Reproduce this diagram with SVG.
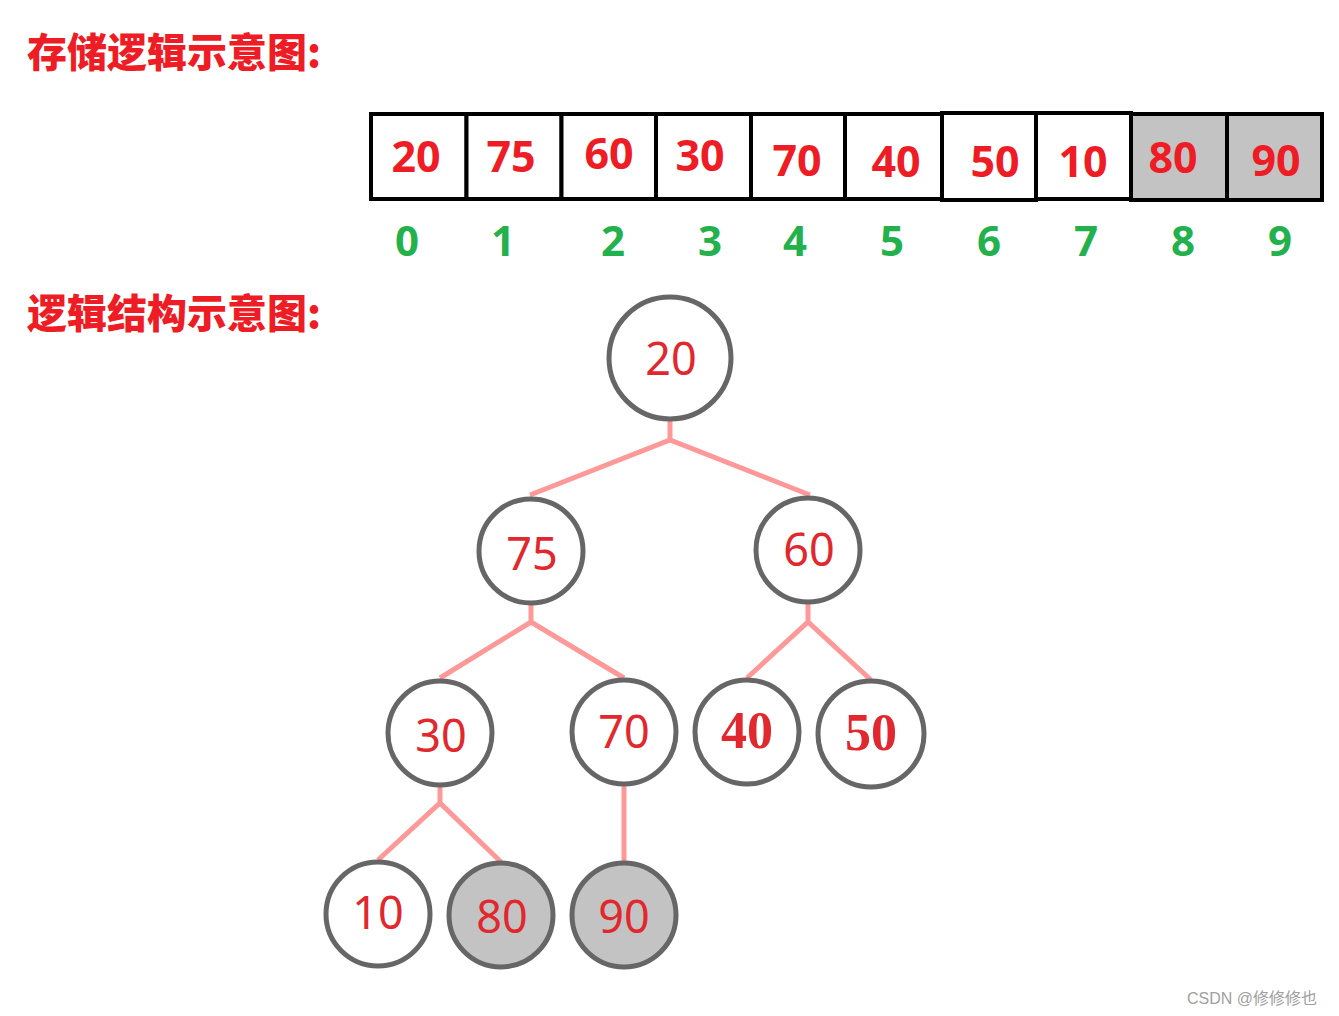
<svg xmlns="http://www.w3.org/2000/svg" width="1339" height="1016" viewBox="0 0 1339 1016">
<style>
.title{font-family:"Noto Sans CJK SC","Noto Sans",sans-serif;font-weight:900;font-size:40px;fill:#ee1c25}
.cell{fill:#fff;stroke:#000;stroke-width:4}
.cell.g{fill:#c3c3c3}
.val{font-family:"Noto Sans","Open Sans",sans-serif;font-weight:700;font-size:43px;fill:#ee1c25;text-anchor:middle}
.idx{font-family:"Noto Sans","Open Sans",sans-serif;font-weight:700;font-size:42px;fill:#22b14c;text-anchor:middle}
.node{fill:#fff;stroke:#666;stroke-width:5}
.node.g{fill:#c3c3c3}
.nt{font-family:"Noto Sans","Open Sans",sans-serif;font-size:45px;fill:#e0282e;text-anchor:middle}
.nts{font-family:"Liberation Serif","DejaVu Serif",serif;font-weight:700;font-size:52px;fill:#e0282e;text-anchor:middle}
.edge{fill:none;stroke:#ff9999;stroke-width:5}
.wm{font-family:"Liberation Sans","Noto Sans CJK SC",sans-serif;font-size:16px;fill:#a0a0a0}
</style>
<rect width="1339" height="1016" fill="#fff"/>
<text class="title" x="27" y="67">存储逻辑示意图:</text>
<text class="title" x="27" y="328">逻辑结构示意图:</text>

<g id="array">
<rect class="cell" x="371" y="114" width="95.5" height="85"/>
<rect class="cell" x="466.5" y="114" width="95" height="85"/>
<rect class="cell" x="561.5" y="114" width="94.5" height="85"/>
<rect class="cell" x="656" y="114" width="95" height="85"/>
<rect class="cell" x="751" y="114" width="94" height="85"/>
<rect class="cell" x="845" y="114" width="97" height="85"/>
<rect class="cell" x="942" y="113" width="94" height="87"/>
<rect class="cell" x="1036" y="113" width="95" height="86"/>
<rect class="cell g" x="1131" y="114" width="96" height="86"/>
<rect class="cell g" x="1227" y="114" width="95" height="86"/>
<text class="val" x="416" y="172">20</text>
<text class="val" x="511" y="172">75</text>
<text class="val" x="609" y="169">60</text>
<text class="val" x="700" y="171">30</text>
<text class="val" x="797" y="176">70</text>
<text class="val" x="896" y="177">40</text>
<text class="val" x="995" y="177">50</text>
<text class="val" x="1083" y="177">10</text>
<text class="val" x="1173" y="173">80</text>
<text class="val" x="1276" y="176">90</text>
<text class="idx" x="407" y="256">0</text>
<text class="idx" x="503" y="256">1</text>
<text class="idx" x="613" y="256">2</text>
<text class="idx" x="710" y="256">3</text>
<text class="idx" x="795" y="256">4</text>
<text class="idx" x="892" y="256">5</text>
<text class="idx" x="989" y="256">6</text>
<text class="idx" x="1086" y="256">7</text>
<text class="idx" x="1183" y="256">8</text>
<text class="idx" x="1280" y="256">9</text>
</g>

<g id="connectors">
<path class="edge" d="M670 420 V440 M530 495 L670 440 L810 495"/>
<path class="edge" d="M531 604 V622 M440 678 L531 622 L624 678"/>
<path class="edge" d="M808 604 V622 M747 678 L808 622 L871 680"/>
<path class="edge" d="M440 786 V803 M378 860 L440 803 L501 862"/>
<path class="edge" d="M624 786 V862"/>
</g>

<g id="n20"><circle class="node" cx="670" cy="358" r="61"/><text class="nt" x="671" y="375">20</text></g>
<g id="n75"><circle class="node" cx="531" cy="551" r="52"/><text class="nt" x="532" y="570">75</text></g>
<g id="n60"><circle class="node" cx="808" cy="550" r="52"/><text class="nt" x="809" y="566">60</text></g>
<g id="n30"><circle class="node" cx="440" cy="733" r="52"/><text class="nt" x="441" y="752">30</text></g>
<g id="n70"><circle class="node" cx="624" cy="732" r="52"/><text class="nt" x="624" y="748">70</text></g>
<g id="n40"><circle class="node" cx="747" cy="732" r="52"/><text class="nts" x="747" y="748">40</text></g>
<g id="n50"><circle class="node" cx="871" cy="734" r="53"/><text class="nts" x="871" y="750" font-size="50">50</text></g>
<g id="n10"><circle class="node" cx="378" cy="914" r="52"/><text class="nt" x="378" y="929">10</text></g>
<g id="n80"><circle class="node g" cx="501" cy="915" r="52"/><text class="nt" x="502" y="933">80</text></g>
<g id="n90"><circle class="node g" cx="624" cy="915" r="52"/><text class="nt" x="624" y="933">90</text></g>

<text class="wm" x="1187" y="1004">CSDN @修修修也</text>
</svg>
